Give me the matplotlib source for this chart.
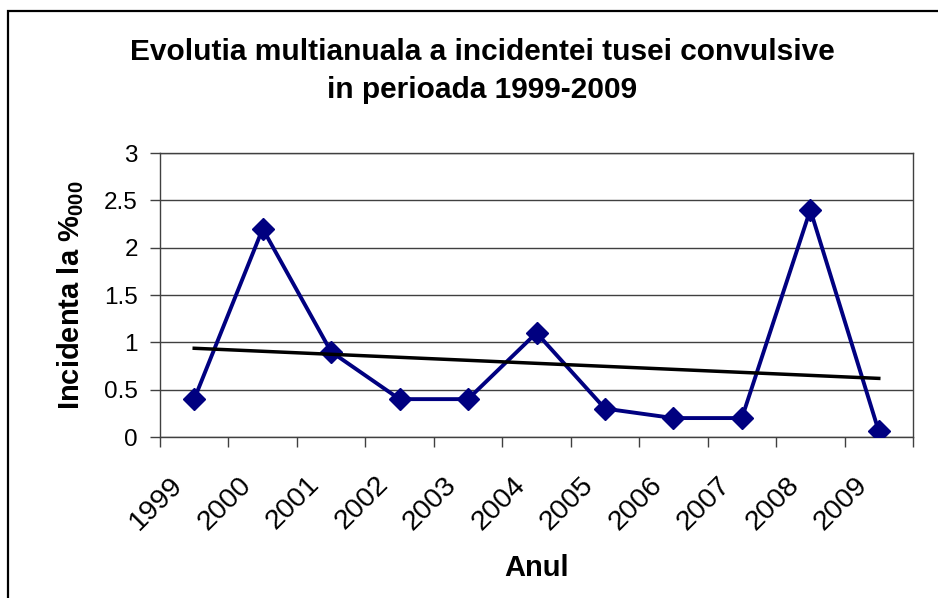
import numpy as np
import matplotlib.pyplot as plt
from matplotlib.patches import Rectangle

plt.rcParams['font.family'] = ['Liberation Sans', 'DejaVu Sans']
plt.rcParams['mathtext.fontset'] = 'custom'
plt.rcParams['mathtext.rm'] = 'Liberation Sans'
plt.rcParams['mathtext.bf'] = 'Liberation Sans:bold'

# data
years = ['1999', '2000', '2001', '2002', '2003', '2004', '2005', '2006', '2007', '2008', '2009']
incidenta = [0.4, 2.2, 0.9, 0.4, 0.4, 1.1, 0.3, 0.2, 0.2, 2.4, 0.06]
yticks = [0, 0.5, 1, 1.5, 2, 2.5, 3]
ytick_labels = ['0', '0.5', '1', '1.5', '2', '2.5', '3']

fig = plt.figure(figsize=(9.38, 5.98), dpi=100)
ax = fig.add_axes([160/938, 1-437/598, 753/938, 284/598])

x = np.arange(len(years))
y = np.array(incidenta)

# series
ax.plot(x, y, color='#000080', lw=2.8, marker='D', markersize=11.5,
        markerfacecolor='#000080', markeredgecolor='#000080', zorder=3)

# linear trend line (Excel style)
k, b = np.polyfit(x, y, 1)
ax.plot(x, k*x + b, color='black', lw=2.5, zorder=4)

ax.set_xlim(-0.5, len(years) - 0.5)
ax.set_ylim(0, 3)

# ticks at category boundaries, labels at category centres (rotated)
ax.set_xticks(np.arange(-0.5, len(years), 1.0))
ax.set_xticklabels([])
ax.tick_params(axis='x', length=7, width=1, color='#404040', direction='out')
for i, yr in enumerate(years):
    ax.annotate(yr, xy=(x[i], 0), xycoords=('data', 'axes fraction'),
                xytext=(-11, -31.5), textcoords='offset points',
                rotation=45, rotation_mode='anchor', ha='right', va='center',
                fontsize=20.5, annotation_clip=False)

ax.set_yticks(yticks)
ax.set_yticklabels(ytick_labels, fontsize=17.5)
ax.tick_params(axis='y', length=7, width=1, color='#404040', direction='out', pad=9)

ax.grid(axis='y', color='#404040', lw=1)
ax.set_axisbelow(True)
for s in ax.spines.values():
    s.set_color('#404040')
    s.set_linewidth(1)

ax.set_xlabel('Anul', fontsize=21, fontweight='bold', va='center')
ax.xaxis.set_label_coords(0.5007, (437-568)/284)
ax.set_ylabel(r'Incidenta la %$_{\mathbf{000}}$', fontsize=21, fontweight='bold', va='center')
ax.yaxis.set_label_coords((71-160)/753, 0.5)

fig.text(482/938, 1-71/598,
         'Evolutia multianuala a incidentei tusei convulsive\nin perioada 1999-2009',
         ha='center', va='center', fontsize=21.5, fontweight='bold', linespacing=1.5)

# chart area border (left and top visible)
fig.patches.append(Rectangle((8/938, -0.1), 1.2, 1-11/598 + 0.1, transform=fig.transFigure,
                             fill=False, edgecolor='black', lw=1.6))

fig.savefig('out.png', dpi=100)
